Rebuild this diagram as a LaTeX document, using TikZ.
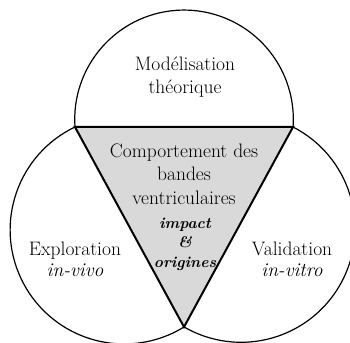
\documentclass[tikz,border=0pt]{standalone}
\usepackage{amsmath, amssymb}
\usepackage{tikz}
\usepackage{xcolor}

\begin{document}
\begin{tikzpicture}[x=1pt, y=1pt,
    lab/.style={align=center, font=\fontsize{19.5}{23.5}\selectfont},
    side/.style={align=center, font=\fontsize{19.5}{21}\selectfont},
    sub/.style={align=center, font=\fontsize{15.5}{19.5}\selectfont\bfseries\itshape}]
    % Frame
    \useasboundingbox (0,0) rectangle (350,342);
    \clip (0,0) rectangle (350,342);

    % Vertices of the triangle
    \coordinate (tl) at (75,215);
    \coordinate (tr) at (293,215);
    \coordinate (bot) at (184,15);

    % Top half-circle
    \draw[line width=1.2pt] (tl) arc[start angle=184.0, end angle=-4.0, radius=109.3];

    % Left and right circles
    \draw[line width=1.2pt] (tl) arc[start angle=115.55, end angle=301.6, radius=114.06];
    \draw[line width=1.2pt] (tr) arc[start angle=62.9, end angle=-120.1, radius=113.9];

    % Central triangle
    \filldraw[fill=gray!30, line width=2pt, line join=miter] (tl) -- (tr) -- (bot) -- cycle;

    % Labels
    \node[lab] (model) at (185,265) {Mod\'elisation\\th\'eorique};
    \node[lab] (core) at (184,168) {Comportement des\\bandes\\ventriculaires};
    \node[sub] (why) at (185,98) {impact\\\&\\origines};
    \node[side] (explo) at (75,83) {Exploration\\\textit{in-vivo}};
    \node[side] (valid) at (292,83) {Validation\\\textit{in-vitro}};
\end{tikzpicture}
\end{document}
